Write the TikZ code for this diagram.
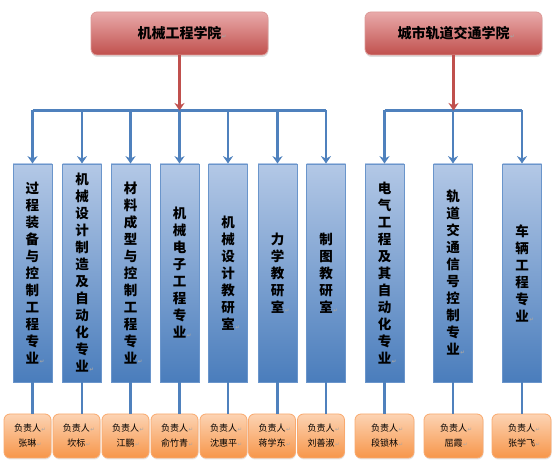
\documentclass[tikz,border=0pt]{standalone}
\usepackage{fontspec}
\newfontfamily\cjk{Noto Sans CJK SC}
\newfontfamily\dejavu{DejaVu Sans}
\usetikzlibrary{arrows.meta,shadows}
\definecolor{bluetop}{HTML}{B3C8E6}
\definecolor{bluebot}{HTML}{4A7DBC}
\definecolor{bluedraw}{HTML}{6A95CB}
\definecolor{blueline}{HTML}{4F81BD}
\definecolor{redtop}{HTML}{E9AAAA}
\definecolor{redbot}{HTML}{C0504D}
\definecolor{reddraw}{HTML}{DC9997}
\definecolor{redline}{HTML}{C0504D}
\definecolor{orangetop}{HTML}{FCD3B3}
\definecolor{orangebot}{HTML}{F7964A}
\definecolor{orangedraw}{HTML}{F9A96E}
\newcommand\rmark{\rlap{\kern0.5pt{\dejavu\fontsize{5.5}{6}\selectfont\color{black!35}↵}}}
\begin{document}
\begin{tikzpicture}[x=1pt,y=-1pt,
  head/.style={rounded corners=6pt, draw=reddraw, line width=0.8pt,
    top color=redtop, bottom color=redbot, minimum width=177pt, minimum height=43pt,
    inner sep=0pt, font=\cjk\bfseries\fontsize{14}{16}\selectfont,
    drop shadow={shadow xshift=0.5pt, shadow yshift=-2pt, opacity=0.25}},
  major/.style={draw=bluedraw, line width=0.8pt, top color=bluetop, bottom color=bluebot,
    minimum width=39pt, minimum height=218pt, inner sep=0pt, align=center,
    font=\cjk\bfseries\fontsize{13.5}{17}\selectfont},
  leader/.style={rounded corners=6pt, draw=orangedraw, line width=0.8pt,
    top color=orangetop, bottom color=orangebot, minimum height=44pt, inner sep=0pt,
    align=center, font=\cjk\fontsize{9}{15}\selectfont,
    drop shadow={shadow xshift=0.5pt, shadow yshift=-1.5pt, opacity=0.2}},
  bus/.style={draw=blueline, line width=2.3pt},
  busarrow/.style={draw=blueline, line width=2.3pt, -{Stealth[length=7.5pt,width=10pt]}},
  redarrow/.style={draw=redline, line width=2.3pt, -{Stealth[length=7.5pt,width=10pt]}}
]
\useasboundingbox (0,0) rectangle (558,465);
% colleges
\node[head] (c1) at (179.5,33.5) {机械工程学院\rmark};
\node[head] (c2) at (453.5,33.5) {城市轨道交通学院\rmark};
% majors
\node[major] (m1) at (32.5,273) {过\\程\\装\\备\\与\\控\\制\\工\\程\\专\\业\rmark};
\node[major] (m2) at (82,273) {机\\械\\设\\计\\制\\造\\及\\自\\动\\化\\专\\业\rmark};
\node[major] (m3) at (130.5,273) {材\\料\\成\\型\\与\\控\\制\\工\\程\\专\\业\rmark};
\node[major] (m4) at (179.5,273) {机\\械\\电\\子\\工\\程\\专\\业\rmark};
\node[major] (m5) at (228,273) {机\\械\\设\\计\\教\\研\\室\rmark};
\node[major] (m6) at (277.5,273) {力\\学\\教\\研\\室\rmark};
\node[major] (m7) at (326,273) {制\\图\\教\\研\\室\rmark};
\node[major] (m8) at (384.5,273) {电\\气\\工\\程\\及\\其\\自\\动\\化\\专\\业\rmark};
\node[major] (m9) at (453,273) {轨\\道\\交\\通\\信\\号\\控\\制\\专\\业\rmark};
\node[major] (m10) at (522,273) {车\\辆\\工\\程\\专\\业\rmark};
% leaders
\node[leader, minimum width=47pt] (l1) at (27.5,436) {负责人\rmark\\张琳\rmark};
\node[leader, minimum width=47pt] (l2) at (76.5,436) {负责人\rmark\\坎标\rmark};
\node[leader, minimum width=47pt] (l3) at (125.5,436) {负责人\rmark\\江鹏\rmark};
\node[leader, minimum width=47pt] (l4) at (174.5,436) {负责人\rmark\\俞竹青\rmark};
\node[leader, minimum width=47pt] (l5) at (223.5,436) {负责人\rmark\\沈惠平\rmark};
\node[leader, minimum width=47pt] (l6) at (272,436) {负责人\rmark\\蒋学东\rmark};
\node[leader, minimum width=47pt] (l7) at (321,436) {负责人\rmark\\刘善淑\rmark};
\node[leader, minimum width=59pt] (l8) at (384.5,436) {负责人\rmark\\段锁林\rmark};
\node[leader, minimum width=59pt] (l9) at (453.5,436) {负责人\rmark\\屈霞\rmark};
\node[leader, minimum width=59pt] (l10) at (521.5,436) {负责人\rmark\\张学飞\rmark};
% buses
\coordinate (busA) at (0,110.5);
\coordinate (busB) at (0,110.5);
\draw[bus] (m1.north |- busA) -- (m7.north |- busA);
\draw[bus] (m8.north |- busB) -- (m10.north |- busB);
\foreach \i in {1,...,7} \draw[busarrow] (m\i.north |- busA) -- (m\i.north);
\foreach \i in {8,9,10} \draw[busarrow] (m\i.north |- busB) -- (m\i.north);
\draw[redarrow] (c1.south) -- (c1.south |- busA);
\draw[redarrow] (c2.south) -- (c2.south |- busB);
\foreach \i in {1,...,10} \draw[bus] (m\i.south) -- (m\i.south |- l\i.north);
\end{tikzpicture}
\end{document}
